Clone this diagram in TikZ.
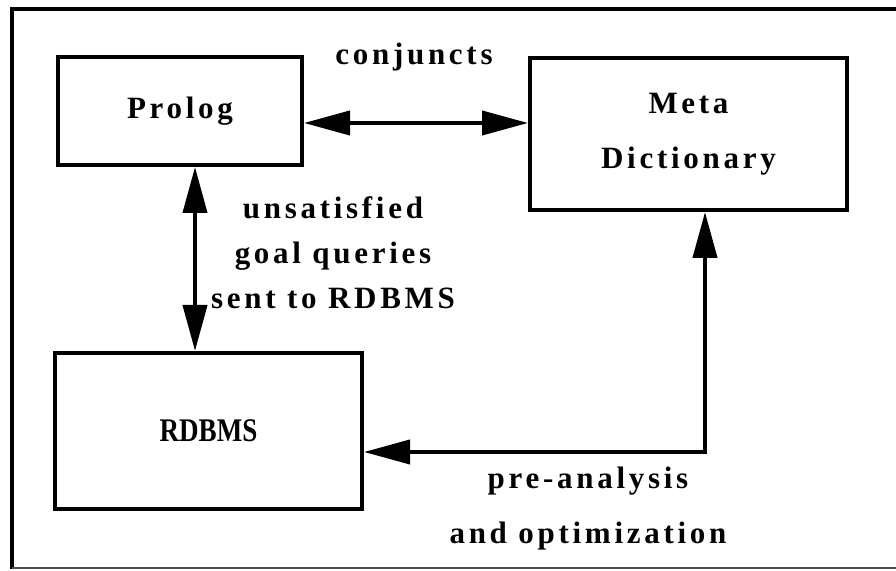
\documentclass[tikz,border=0pt]{standalone}
\usepackage{fontspec}
\usepackage{tikz}
\usetikzlibrary{arrows.meta}
\setmainfont{Liberation Serif}
\newfontfamily\spaced[LetterSpace=12]{Liberation Serif}
\newfontfamily\narrow[FakeStretch=0.82]{Liberation Serif}
\tikzset{
  box/.style={draw,line width=2pt,inner sep=0pt,font=\fontsize{15.5}{27.5}\selectfont\bfseries\spaced},
  conn/.style={line width=2pt,{Triangle[length=23pt,width=12pt]}-{Triangle[length=23pt,width=12pt]}},
  lbl/.style={font=\fontsize{15.5}{22.5}\selectfont\bfseries\spaced,inner sep=0pt}
}
\begin{document}
\begin{tikzpicture}[x=0.5pt,y=-0.5pt]
\useasboundingbox (0,0) rectangle (896,571);
% frame
\draw[line width=2pt] (896,9)--(12,9)--(12,569);
\draw[line width=0.8pt,black!70] (12,568)--(896,568);
% boxes
\node[box,minimum width=122pt,minimum height=54pt] (prolog) at (180,111) {Prolog};
\node[box,minimum width=158.5pt,minimum height=76pt,align=center] (meta) at (688.5,134) {Meta\\Dictionary};
\node[box,minimum width=153.5pt,minimum height=78pt,font=\fontsize{16.5}{18}\selectfont\bfseries\narrow] (rdbms) at (208.5,431) {RDBMS};
% connectors
\draw[conn] ([yshift=-6pt]prolog.east) -- ([yshift=-6pt]prolog.east -| meta.west);
\draw[conn] ([xshift=7.5pt]prolog.south) -- ([xshift=7.5pt]prolog.south |- rdbms.north);
\draw[conn] ([xshift=8.25pt]meta.south) |- ([yshift=-10.5pt]rdbms.east);
% labels
\node[lbl] (conj) at (414,57) {conjuncts};
\node[lbl,align=center] (goal) at (333,253) {unsatisfied\\goal queries\\sent to RDBMS};
\node[lbl,align=center,font=\fontsize{15.5}{27.5}\selectfont\bfseries\spaced] (opt) at (588,509) {pre-analysis\\and optimization};
\end{tikzpicture}
\end{document}
